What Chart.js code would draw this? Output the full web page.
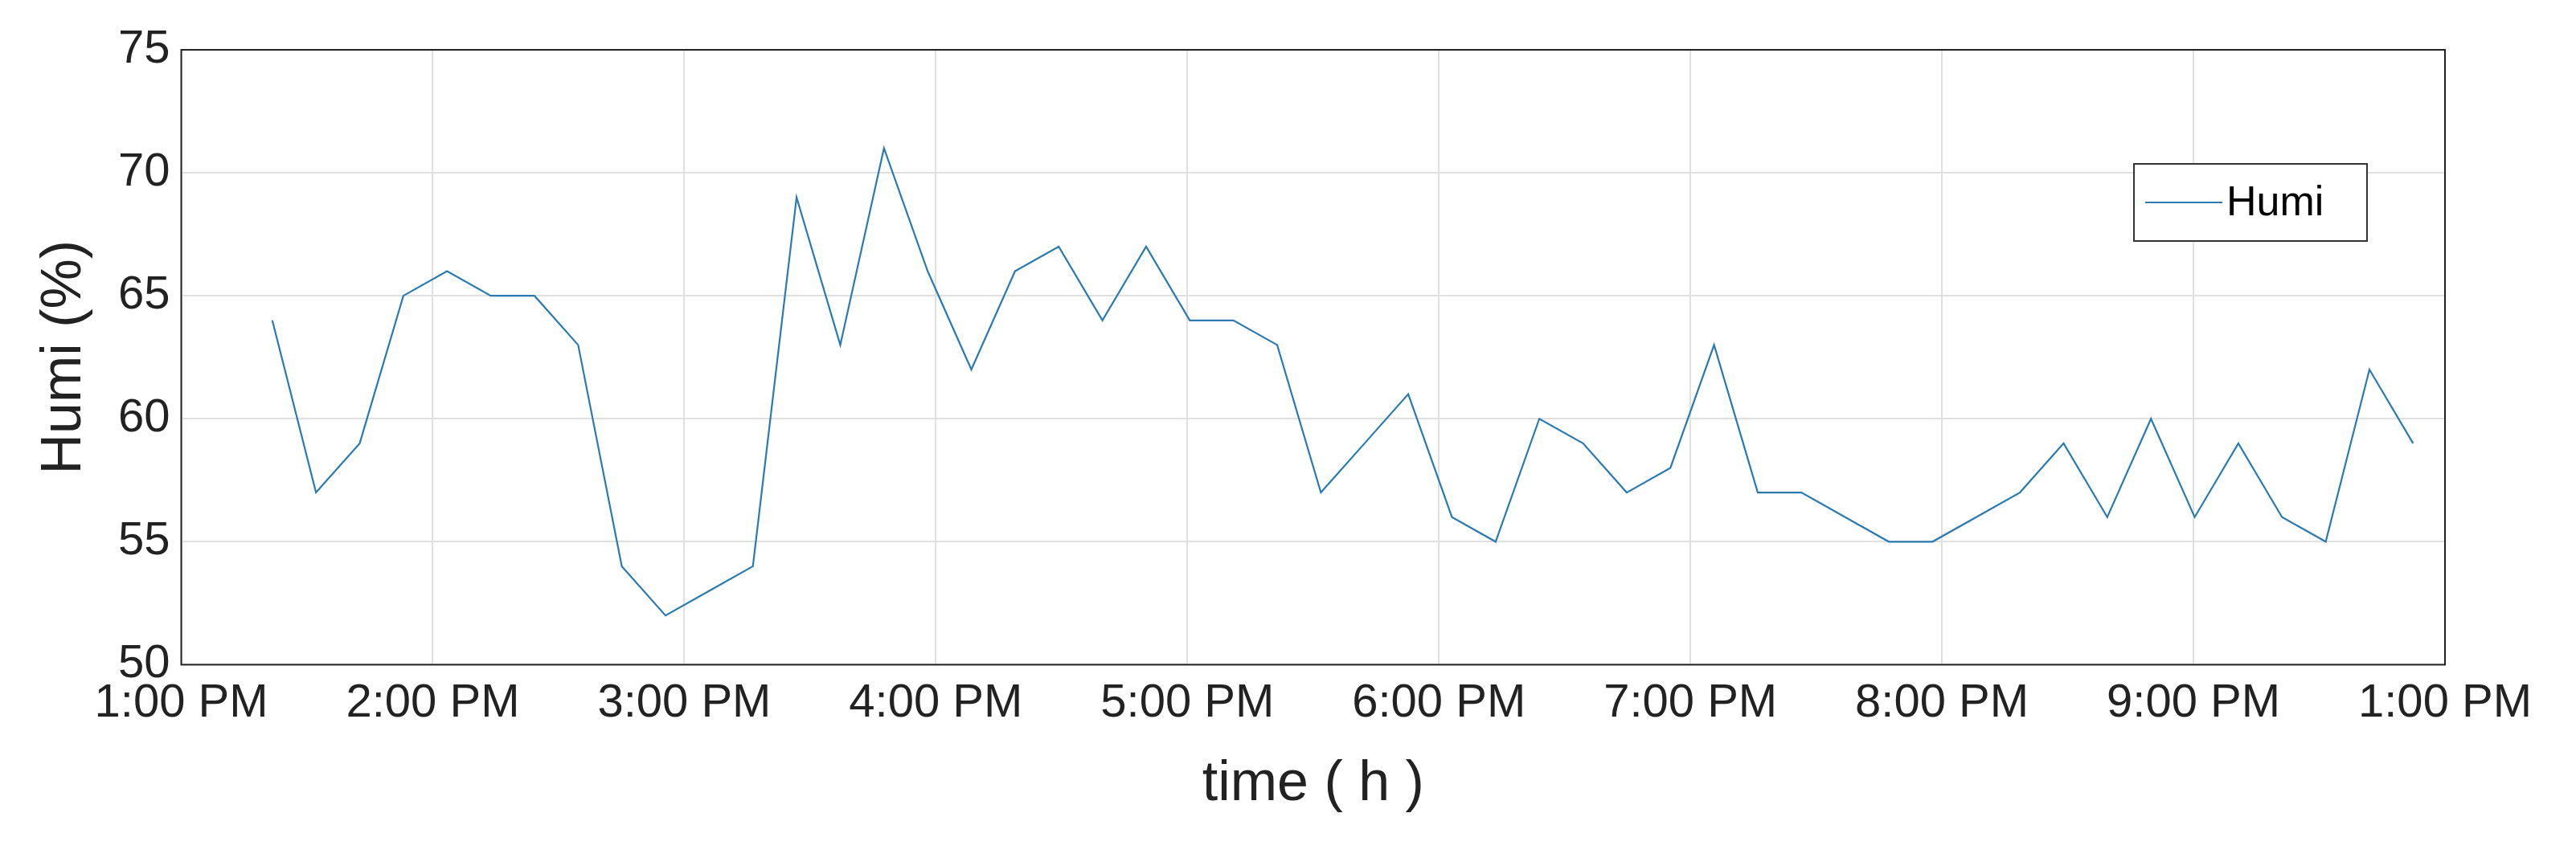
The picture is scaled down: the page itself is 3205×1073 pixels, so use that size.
<!DOCTYPE html>
<html><head><meta charset="utf-8">
<script src="https://cdn.jsdelivr.net/npm/chart.js@4"></script>
<style>html,body{margin:0;background:#fff}#w{width:3205px;height:1073px}</style>
</head><body><div id="w"><canvas id="c"></canvas></div>
<script>
const tickLabels=["1:00 PM","2:00 PM","3:00 PM","4:00 PM","5:00 PM","6:00 PM","7:00 PM","8:00 PM","9:00 PM","1:00 PM"];
const humi=[64,57,59,65,66,65,65,63,54,52,53,54,69,63,71,66,62,66,67,64,67,64,64,63,57,59,61,56,55,60,59,57,58,63,57,57,56,55,55,56,57,59,56,60,56,59,56,55,62,59];
const startHour=0.362, stepHour=0.1737;
const pts=humi.map((v,i)=>({x:startHour+i*stepHour,y:v}));
const legendPlugin={id:'lg',afterDraw(ch){const c=ch.ctx;const x=2655,y=204,w=290,h=96;
c.save();c.fillStyle='#fff';c.fillRect(x,y,w,h);c.strokeStyle='#333';c.lineWidth=2;c.strokeRect(x,y,w,h);
c.strokeStyle='#2a7ab0';c.lineWidth=2;c.beginPath();c.moveTo(x+14,y+48);c.lineTo(x+110,y+48);c.stroke();
c.fillStyle='#000';c.font='52px Arial, "Liberation Sans"';c.textBaseline='middle';c.fillText('Humi',x+115,y+50);c.restore();}};
const boxPlugin={id:'bx',afterDraw(ch){const a=ch.chartArea,c=ch.ctx;c.save();c.strokeStyle='#222';c.lineWidth=2;c.strokeRect(a.left,a.top,a.right-a.left,a.bottom-a.top);c.restore();}};
new Chart(document.getElementById('c'),{type:'line',
data:{datasets:[{data:pts,borderColor:'#2a7ab0',borderWidth:2.2,pointRadius:0,tension:0,fill:false}]},
options:{responsive:true,maintainAspectRatio:false,animation:false,
layout:{padding:{left:35,right:163,top:62,bottom:50}},
plugins:{legend:{display:false},tooltip:{enabled:false}},
scales:{
x:{type:'linear',min:0,max:9,border:{display:false},grid:{color:'#e0e0e0',lineWidth:2,tickLength:0},
ticks:{stepSize:1,autoSkip:false,maxRotation:0,color:'#222',padding:14,font:{size:58,family:'Arial, "Liberation Sans"'},callback:v=>tickLabels[v]},
title:{display:true,text:'time ( h )',color:'#222',font:{size:70,family:'Arial, "Liberation Sans"'},padding:{top:10}}},
y:{min:50,max:75,border:{display:false},grid:{color:'#e0e0e0',lineWidth:2,tickLength:0},
ticks:{stepSize:5,color:'#222',padding:14,font:{size:58,family:'Arial, "Liberation Sans"'}},
title:{display:true,text:'Humi (%)',color:'#222',font:{size:70,family:'Arial, "Liberation Sans"'},padding:{bottom:10}}}}},
plugins:[legendPlugin,boxPlugin]});
</script></body></html>
